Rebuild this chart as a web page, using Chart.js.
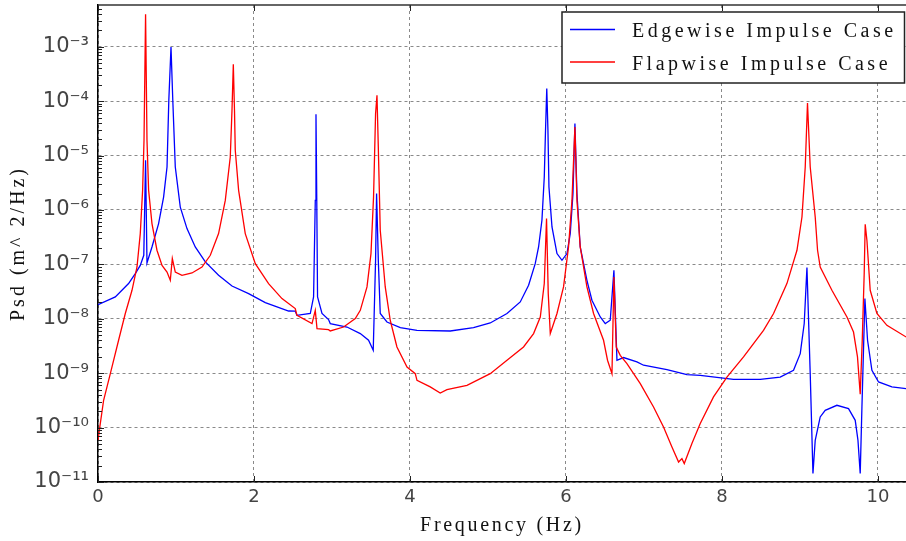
<!DOCTYPE html>
<html><head><meta charset="utf-8">
<script src="https://cdn.jsdelivr.net/npm/chart.js@4.4.0/dist/chart.umd.min.js"></script>
<style>html,body{margin:0;padding:0;background:#fff;}canvas{display:block;}</style>
</head><body>
<canvas id="c" width="906" height="541"></canvas>
<script>
const freqEdge = [0,0.222,0.392,0.478,0.542,0.587,0.610,0.628,0.692,0.777,0.841,0.885,0.908,0.936,0.959,0.991,1.055,1.141,1.247,1.376,1.546,1.718,1.931,2.145,2.444,2.529,2.551,2.722,2.764,2.786,2.795,2.805,2.815,2.872,2.956,2.978,3.192,3.363,3.469,3.529,3.559,3.572,3.594,3.619,3.705,3.876,4.090,4.517,4.815,5.029,5.244,5.414,5.521,5.606,5.649,5.692,5.722,5.738,5.754,5.769,5.782,5.821,5.885,5.949,6.013,6.055,6.090,6.115,6.141,6.183,6.269,6.333,6.376,6.440,6.504,6.568,6.615,6.654,6.738,6.910,6.995,7.295,7.551,7.722,8.149,8.491,8.747,8.918,9.004,9.055,9.090,9.132,9.167,9.196,9.260,9.324,9.474,9.623,9.709,9.744,9.773,9.795,9.833,9.867,9.923,10.008,10.179,10.363];
const psdEdge = [1.82e-8,2.52e-8,4.44e-8,6.78e-8,9.6e-8,1.47e-7,8.2e-6,1.06e-7,2.09e-7,5.62e-7,1.73e-6,6.17e-6,1.04e-4,9.9e-4,1.04e-4,6.17e-6,1.13e-6,4.55e-7,2.09e-7,1.11e-7,6.31e-8,4.0e-8,2.9e-8,1.99e-8,1.39e-8,1.38e-8,1.16e-8,1.25e-8,2.52e-8,1.5e-6,5.74e-5,1.5e-6,2.52e-8,1.25e-8,9.66e-9,8.17e-9,7.06e-9,5.35e-9,4.03e-9,2.64e-9,1.19e-7,2.0e-6,1.19e-7,1.25e-8,8.73e-9,6.89e-9,6.15e-9,5.97e-9,6.89e-9,8.38e-9,1.25e-8,2.04e-8,4.13e-8,1.03e-7,2.09e-7,6.47e-7,4.05e-6,2.92e-5,1.71e-4,2.92e-5,2.65e-6,4.88e-7,1.58e-7,1.19e-7,1.58e-7,3.68e-7,2.0e-6,3.87e-5,2.0e-6,2.09e-7,5.1e-8,2.19e-8,1.65e-8,1.08e-8,8.17e-9,9.4e-9,7.8e-8,1.73e-9,1.94e-9,1.61e-9,1.40e-9,1.16e-9,9.4e-10,9.1e-10,7.7e-10,7.7e-10,8.5e-10,1.13e-9,2.29e-9,8.17e-9,8.73e-8,9.8e-10,1.43e-11,5.85e-11,1.57e-10,2.08e-10,2.57e-10,2.23e-10,1.36e-10,5.85e-11,1.43e-11,2.39e-10,2.35e-8,4.03e-9,1.13e-9,6.9e-10,5.6e-10,5.2e-10];
const freqFlap = [0,0.017,0.072,0.158,0.264,0.350,0.436,0.500,0.542,0.572,0.590,0.610,0.628,0.649,0.692,0.756,0.821,0.885,0.927,0.953,0.991,1.077,1.205,1.333,1.440,1.546,1.632,1.696,1.718,1.735,1.750,1.760,1.803,1.888,2.017,2.187,2.359,2.529,2.551,2.744,2.786,2.808,2.956,2.978,3.149,3.299,3.363,3.449,3.500,3.533,3.559,3.577,3.594,3.619,3.683,3.747,3.833,3.962,4.068,4.090,4.260,4.388,4.474,4.731,5.029,5.244,5.456,5.585,5.671,5.722,5.751,5.773,5.799,5.885,5.969,6.033,6.077,6.115,6.141,6.183,6.269,6.354,6.482,6.533,6.590,6.615,6.645,6.696,6.782,6.953,7.123,7.251,7.359,7.444,7.487,7.517,7.615,7.722,7.892,8.064,8.277,8.533,8.662,8.833,8.962,9.026,9.068,9.097,9.132,9.196,9.226,9.260,9.410,9.603,9.687,9.738,9.773,9.799,9.824,9.837,9.859,9.901,9.987,10.115,10.363];
const psdFlap = [5.85e-11,8.9e-11,3.18e-10,9.8e-10,4.03e-9,1.25e-8,3.34e-8,8.95e-8,3.68e-7,2.30e-6,1.91e-5,3.95e-3,1.91e-5,2.30e-6,5.62e-7,1.82e-7,9.6e-8,7.24e-8,5.1e-8,1.28e-7,7.24e-8,6.31e-8,6.95e-8,8.95e-8,1.47e-7,3.68e-7,1.5e-6,9.4e-6,6.8e-5,4.76e-4,6.8e-5,1.25e-5,2.30e-6,3.68e-7,1.03e-7,4.44e-8,2.35e-8,1.54e-8,1.16e-8,8.17e-9,1.43e-8,6.6e-9,6.32e-9,5.97e-9,7.06e-9,1.01e-8,1.43e-8,3.85e-8,1.58e-7,1.73e-6,5.9e-5,1.28e-4,1.44e-5,4.24e-7,3.85e-8,9.4e-9,3.03e-9,1.30e-9,9.8e-10,7.4e-10,5.6e-10,4.33e-10,5.0e-10,6.0e-10,9.8e-10,1.73e-9,3.03e-9,5.35e-9,1.08e-8,4.44e-8,6.95e-7,2.9e-8,5.35e-9,1.25e-8,3.85e-8,2.09e-7,1.5e-6,3.36e-5,1.5e-6,2.09e-7,3.85e-8,1.25e-8,4.03e-9,1.73e-9,9.8e-10,5.86e-8,3.03e-9,2.13e-9,1.5e-9,6.44e-10,2.39e-10,1.03e-10,4.4e-11,2.33e-11,2.69e-11,2.18e-11,5.08e-11,1.19e-10,3.66e-10,8.5e-10,1.99e-9,6.15e-9,1.25e-8,4.44e-8,1.82e-7,7.43e-7,6.17e-6,9.27e-5,6.17e-6,7.43e-7,1.82e-7,8.95e-8,3.34e-8,1.08e-8,5.71e-9,1.99e-9,4.09e-10,4.03e-9,6.78e-8,5.46e-7,2.77e-7,3.34e-8,1.25e-8,7.59e-9,4.62e-9];

const seriesNames = ['Edgewise Impulse Case', 'Flapwise Impulse Case'];
const seriesColors = ['#0000ff', '#ff0000'];
const xTickValues = [0, 2, 4, 6, 8, 10];
const xTickLabels = ['0', '2', '4', '6', '8', '10'];
const yTickValues = [1e-11, 1e-10, 1e-9, 1e-8, 1e-7, 1e-6, 1e-5, 1e-4, 1e-3];
const yTickLabels = ['10⁻¹¹', '10⁻¹⁰', '10⁻⁹', '10⁻⁸', '10⁻⁷', '10⁻⁶', '10⁻⁵', '10⁻⁴', '10⁻³'];
const xTitle = 'Frequency (Hz)';
const yTitle = 'Psd (m^ 2/Hz)';

const toPoints = (xs, ys) => xs.map((x, i) => ({x: x, y: ys[i]}));

const deco = {
  id: 'deco',
  beforeDraw(chart) {
    for (const s of Object.values(chart.scales)) {
      if (!s._spacedTitle) {
        const orig = s.drawTitle.bind(s);
        const sp = s.axis === 'x' ? '2.7px' : '3px';
        s.drawTitle = function () { const c = this.ctx; c.save(); c.letterSpacing = sp; orig(); c.restore(); };
        s._spacedTitle = true;
      }
    }
  },
  afterDatasetsDraw(chart) {
    const {ctx, chartArea: a, scales: {x, y}} = chart;
    ctx.save();
    ctx.strokeStyle = '#222';
    ctx.lineWidth = 1;
    for (let d = -11; d <= -3; d++) {
      for (let m = 1; m <= 9; m++) {
        const v = m * Math.pow(10, d);
        if (v > y.max) continue;
        const py = Math.round(y.getPixelForValue(v)) + 0.5;
        ctx.beginPath(); ctx.moveTo(a.left, py); ctx.lineTo(a.left + (m === 1 ? 6 : 4), py); ctx.stroke();
      }
    }
    for (const v of xTickValues) {
      const px = Math.round(x.getPixelForValue(v)) + 0.5;
      ctx.beginPath(); ctx.moveTo(px, a.bottom); ctx.lineTo(px, a.bottom - 6); ctx.stroke();
      ctx.beginPath(); ctx.moveTo(px, a.top); ctx.lineTo(px, a.top + 6); ctx.stroke();
    }
    ctx.strokeStyle = '#333';
    ctx.lineWidth = 1.5;
    ctx.beginPath(); ctx.moveTo(a.left, a.top); ctx.lineTo(a.right, a.top); ctx.stroke();
    const bx = 562, by = a.top + 7, bw = a.right - 1.5 - bx, bh = 71;
    ctx.fillStyle = '#fff';
    ctx.fillRect(bx, by, bw, bh);
    ctx.strokeStyle = '#222';
    ctx.lineWidth = 1.5;
    ctx.strokeRect(bx, by, bw, bh);
    ctx.font = '20px "Liberation Serif"';
    ctx.letterSpacing = '3.5px';
    ctx.textBaseline = 'alphabetic';
    ctx.textAlign = 'left';
    for (let i = 0; i < seriesNames.length; i++) {
      const ly = by + 17.5 + i * 32.5;
      ctx.strokeStyle = seriesColors[i];
      ctx.lineWidth = 1.3;
      ctx.beginPath(); ctx.moveTo(bx + 8, ly); ctx.lineTo(bx + 53, ly); ctx.stroke();
      ctx.fillStyle = '#111';
      ctx.fillText(seriesNames[i], bx + 70, ly + 7.5);
    }
    ctx.restore();
  }
};

new Chart(document.getElementById('c'), {
  type: 'line',
  data: {
    datasets: [
      {label: seriesNames[0], data: toPoints(freqEdge, psdEdge), borderColor: seriesColors[0], borderWidth: 1.3, pointRadius: 0, tension: 0, order: 2},
      {label: seriesNames[1], data: toPoints(freqFlap, psdFlap), borderColor: seriesColors[1], borderWidth: 1.3, pointRadius: 0, tension: 0, order: 1}
    ]
  },
  options: {
    responsive: false,
    animation: false,
    devicePixelRatio: 1,
    layout: {padding: {top: 5, left: 0, right: 0, bottom: 0}},
    plugins: {legend: {display: false}, tooltip: {enabled: false}},
    scales: {
      x: {
        type: 'linear', min: 0, max: 10.36,
        afterBuildTicks: s => { s.ticks = xTickValues.map(v => ({value: v})); },
        afterFit: s => { s.height = 59; s.paddingLeft = 0; s.paddingRight = 0; },
        ticks: {callback: (v, i) => xTickLabels[i], font: {family: 'DejaVu Sans', size: 18}, color: '#444', padding: 5, maxRotation: 0, autoSkip: false},
        grid: {color: '#8a8a8a', lineWidth: 1, drawTicks: false},
        border: {display: true, color: '#000', width: 1.5, dash: [3, 3]},
        title: {display: true, text: xTitle, font: {family: 'Liberation Serif', size: 20}, color: '#111', padding: {top: 0, bottom: 3}}
      },
      y: {
        type: 'logarithmic', min: 1e-11, max: 5.86e-3,
        afterBuildTicks: s => { s.ticks = yTickValues.map(v => ({value: v})); },
        afterFit: s => { s.width = 98; s.paddingTop = 0; s.paddingBottom = 0; },
        ticks: {callback: (v, i) => yTickLabels[i], font: {family: 'DejaVu Sans', size: 21}, color: '#444', padding: 9, autoSkip: false},
        grid: {color: '#8a8a8a', lineWidth: 1, drawTicks: false},
        border: {display: true, color: '#000', width: 1.5, dash: [3, 3]},
        title: {display: true, text: yTitle, font: {family: 'Liberation Serif', size: 20}, color: '#111', padding: {top: 7, bottom: 0}}
      }
    }
  },
  plugins: [deco]
});
</script>
</body></html>
